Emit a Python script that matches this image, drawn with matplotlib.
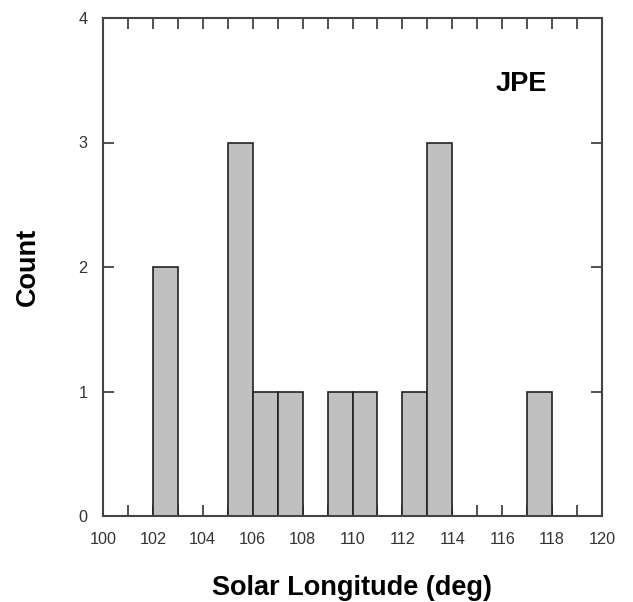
import matplotlib
matplotlib.use("Agg")
import matplotlib.pyplot as plt
import numpy as np

plt.rcParams['font.family'] = ['Liberation Sans', 'DejaVu Sans']

bin_left = [102, 105, 106, 107, 109, 110, 112, 113, 117]
counts = [2, 3, 1, 1, 1, 1, 1, 3, 1]
x_ticks = [100, 102, 104, 106, 108, 110, 112, 114, 116, 118, 120]
y_ticks = [0, 1, 2, 3, 4]

fig = plt.figure(figsize=(6.33, 6.02), dpi=100)
ax = fig.add_axes([103/633, 1-516/602, 499/633, 498/602])

ax.bar(bin_left, counts, width=1.0, align='edge', color='#c0c0c0',
       edgecolor='#222222', linewidth=1.2, zorder=2)

ax.set_xlim(100, 120)
ax.set_ylim(0, 4)
ax.set_xticks(x_ticks)
ax.set_xticks(np.arange(100, 121, 1), minor=True)
ax.set_yticks(y_ticks)
ax.tick_params(axis='both', which='both', direction='in', top=True, right=True,
               color='#333333', width=1.2, labelsize=11.7, labelcolor='#333333')
ax.tick_params(axis='both', which='major', length=8)
ax.tick_params(axis='x', which='both', pad=11.5)
ax.tick_params(axis='y', which='major', pad=11)
ax.tick_params(axis='x', which='minor', length=8)
for s in ax.spines.values():
    s.set_color('#444444')
    s.set_linewidth(1.5)

ax.set_xlabel('Solar Longitude (deg)', fontsize=19.5, fontweight='bold', labelpad=20)
ax.set_ylabel('Count', fontsize=19.5, fontweight='bold', labelpad=27)
ax.text(116.75, 3.47, 'JPE', fontsize=19.5, fontweight='bold', ha='center', va='center')

fig.savefig('out.png', dpi=100)
